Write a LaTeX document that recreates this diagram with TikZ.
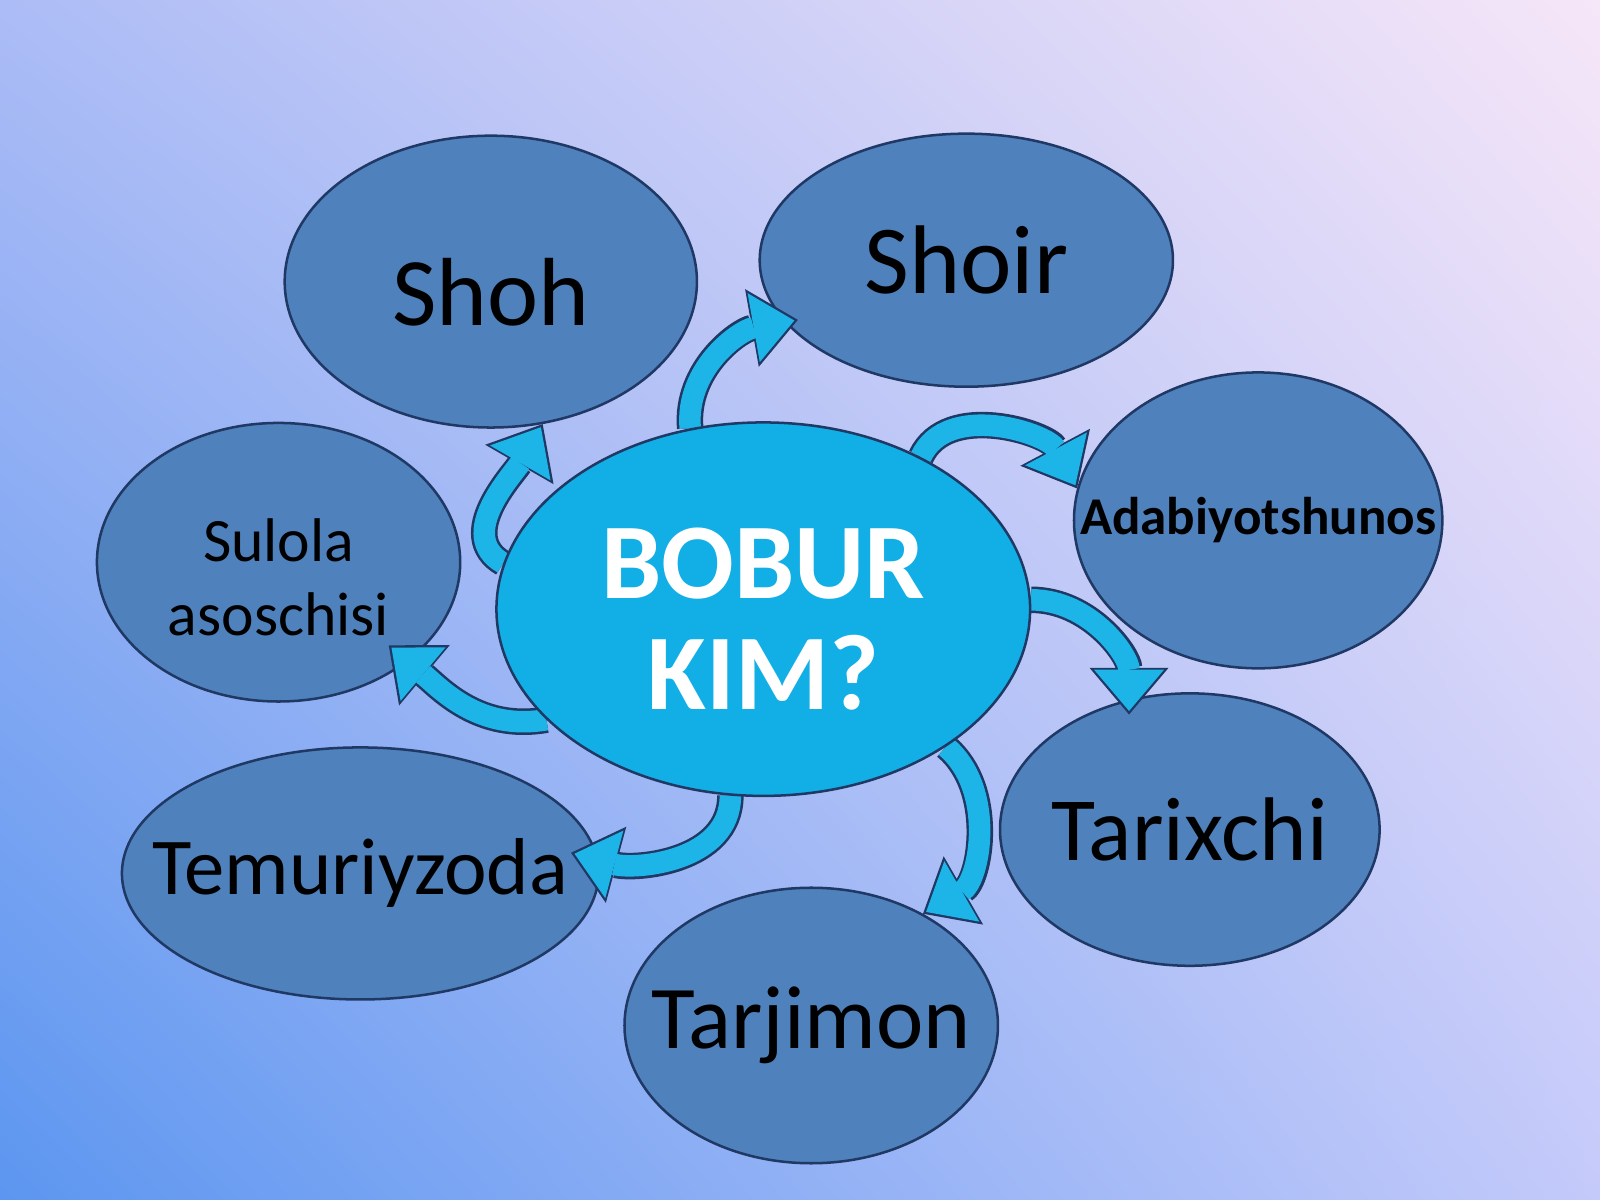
\documentclass[tikz,border=0pt]{standalone}
\usepackage{fontspec}
\setmainfont{Carlito}
\usetikzlibrary{shapes.geometric,arrows.meta,shadings}
\definecolor{steel}{HTML}{4F81BD}
\definecolor{navy}{HTML}{1F3864}
\definecolor{sky}{HTML}{12AEE6}
\definecolor{band}{HTML}{1DB4E8}
\definecolor{bgbl}{RGB}{92,150,240}
\definecolor{bgtl}{RGB}{172,188,246}
\definecolor{bgtr}{RGB}{246,230,248}
\definecolor{bgbr}{RGB}{196,202,250}
\pgfdeclarelayer{bg}
\pgfdeclarelayer{arr}
\pgfdeclarelayer{top}
\pgfsetlayers{bg,main,arr,top}
\tikzset{
  role/.style={ellipse, draw=navy, fill=steel, line width=0.7pt, inner sep=0pt},
  tag/.style={text=black, align=center, inner sep=0pt},
  who/.style={ellipse, draw=navy, fill=sky, line width=0.7pt, inner sep=0pt},
  curly/.style={line width=6pt, draw=band, shorten >=1pt,
    -{Triangle[length=11.5pt,width=19.5pt,line width=0pt]},
    preaction={draw=navy, line width=7.4pt, shorten >=0pt,
      -{Triangle[length=13pt,width=22pt,line width=0pt]}}}
}
\begin{document}
\begin{tikzpicture}
\useasboundingbox (0,0) rectangle (15.68,11.76);
\begin{pgfonlayer}{bg}
  \shade[lower left=bgbl, upper left=bgtl, upper right=bgtr, lower right=bgbr]
    (0,0) rectangle (15.68,11.76);
\end{pgfonlayer}

% centre
\begin{pgfonlayer}{top}
  \node[who, minimum width=5.23cm, minimum height=3.66cm,
    label={[text=white, align=center, font=\bfseries\fontsize{30}{31}\selectfont, yshift=-1mm]center:BOBUR\\KIM?}] (c) at (7.48,5.79) {};
\end{pgfonlayer}

% roles
\node[role, minimum width=4.04cm, minimum height=2.86cm,
  label={[tag, font=\fontsize{27}{32}\selectfont, yshift=-1mm]center:Shoh}] (shoh) at (4.81,9.00) {};
\node[role, minimum width=4.05cm, minimum height=2.48cm,
  label={[tag, font=\fontsize{27.2}{32}\selectfont]center:Shoir}] (shoir) at (9.47,9.21) {};
\node[role, minimum width=3.61cm, minimum height=2.90cm,
  label={[tag, font=\bfseries\fontsize{14.8}{18}\selectfont]center:Adabiyotshunos}] (adab) at (12.33,6.66) {};
\node[role, minimum width=3.72cm, minimum height=2.67cm,
  label={[tag, font=\fontsize{25.2}{30}\selectfont]center:Tarixchi}] (tarix) at (11.66,3.63) {};
\node[role, minimum width=3.66cm, minimum height=2.70cm,
  label={[tag, font=\fontsize{25}{30}\selectfont]center:Tarjimon}] (tarj) at (7.95,1.71) {};
\node[role, minimum width=4.67cm, minimum height=2.47cm,
  label={[tag, font=\fontsize{22.5}{27}\selectfont]center:Temuriyzoda}] (temu) at (3.53,3.20) {};
\node[role, minimum width=3.56cm, minimum height=2.73cm,
  label={[tag, font=\fontsize{17.2}{20.5}\selectfont, yshift=-1.5mm]center:Sulola\\asoschisi}] (sul) at (2.73,6.25) {};

\begin{pgfonlayer}{arr}
  \draw[curly] (c.170) to[out=150,in=-120] (shoh.-70);
  \draw[curly] (c.112) to[out=95,in=190] ([xshift=1.5mm]shoir.198);
  \draw[curly] (c.44) to[out=65,in=118] (adab.170);
  \draw[curly] (c.2) to[out=0,in=90] ([yshift=-1.5mm]tarix.115);
  \draw[curly] (c.-37) to[out=-40,in=30] (tarj.45);
  \draw[curly] (c.-100) to[out=-90,in=-15] ([xshift=-2.5mm]temu.5);
  \draw[curly] (c.207) to[out=190,in=-40] ([shift={(-2mm,1.5mm)}]sul.-37);
\end{pgfonlayer}
\end{tikzpicture}
\end{document}
